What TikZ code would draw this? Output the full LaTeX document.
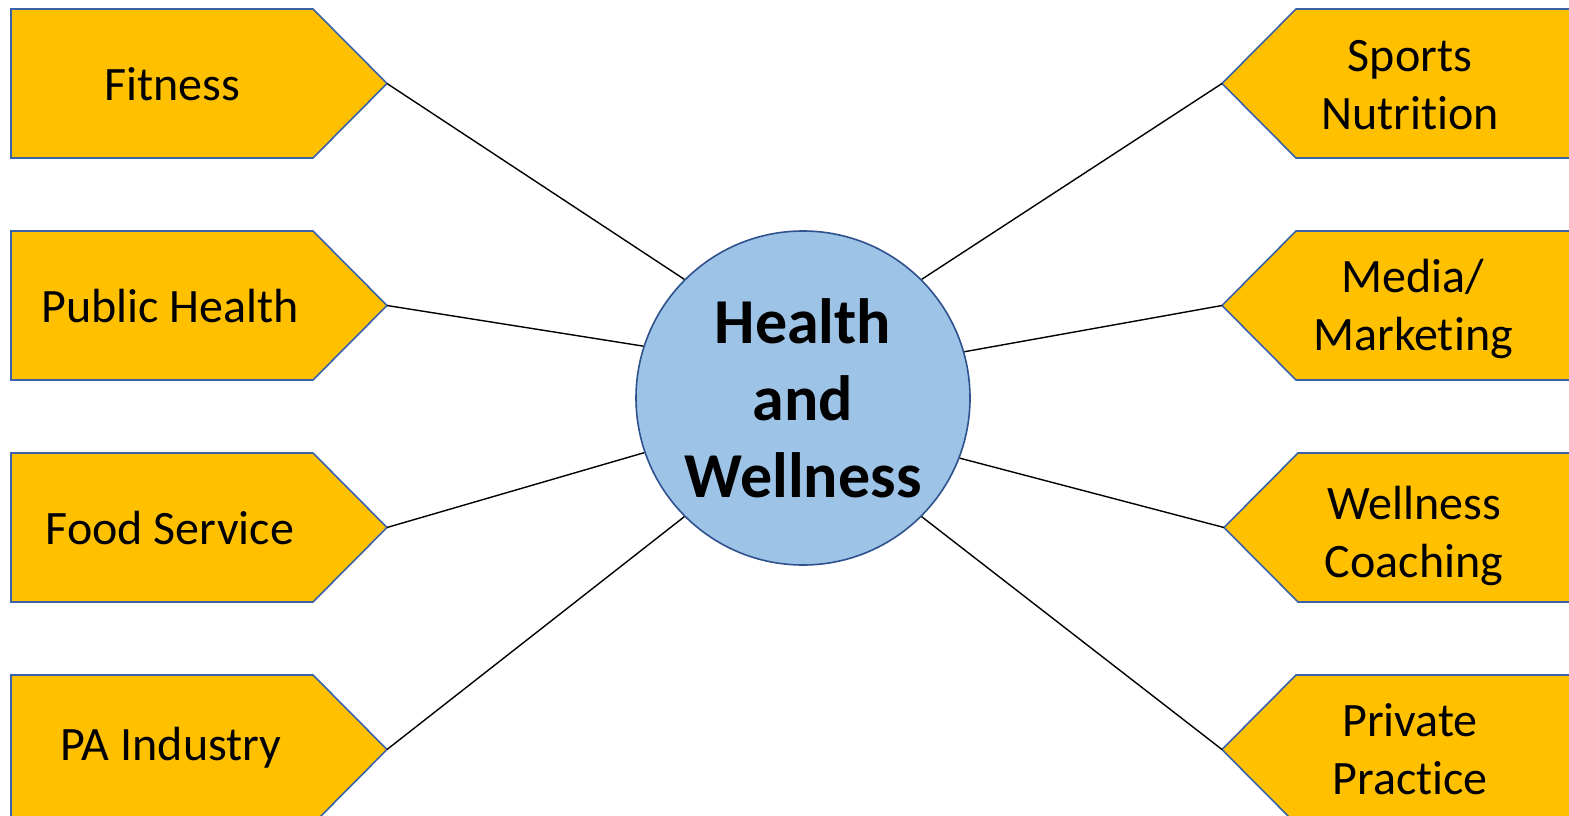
\documentclass[tikz,border=0pt]{standalone}
\usepackage{fontspec}
\setmainfont[Ligatures={NoCommon}]{Carlito}
\definecolor{boxfill}{HTML}{FFC000}
\definecolor{boxline}{HTML}{3A62A8}
\definecolor{circfill}{HTML}{9DC3E6}
\definecolor{circline}{HTML}{2F528F}
\tikzset{
  tagbox/.style={fill=boxfill,draw=boxline,line width=1.6pt,line join=miter},
  tagtext/.style={font=\fontsize{48}{58}\selectfont,align=center,inner sep=0pt,anchor=center},
  link/.style={draw=black,line width=1.4pt},
  hub/.style={circle,fill=circfill,draw=circline,line width=1.6pt,minimum size=334pt,inner sep=0pt,
    font=\fontsize{64}{77}\selectfont\bfseries,align=center}
}
\begin{document}
\begin{tikzpicture}[x=1pt,y=-1pt]
\useasboundingbox (0,0) rectangle (1569,816);
\clip (0,0) rectangle (1569,816);
\fill[white] (0,0) rectangle (1569,816);
% left boxes
\foreach \t/\n in {9/L1,231/L2,453/L3,675/L4}{
  \draw[tagbox] (11,\t) -- (313,\t) -- (387,\t+74.5) -- (313,\t+149) -- (11,\t+149) -- cycle;
  \coordinate (\n) at (387,\t+74.5);
}
% right boxes
\foreach \t/\n/\p in {9/R1/1222,231/R2/1222,453/R3/1224,675/R4/1222}{
  \draw[tagbox] (1620,\t) -- (\p+74,\t) -- (\p,\t+74.5) -- (\p+74,\t+149) -- (1620,\t+149) -- cycle;
  \coordinate (\n) at (\p,\t+74.5);
}
\node[tagtext] (tL1) at (172,84) {Fitness};
\node[tagtext] (tL2) at (170,306) {Public Health};
\node[tagtext] (tL3) at (170,528) {Food Service};
\node[tagtext] (tL4) at (171,748) {PA Industry};
\node[tagtext] (tR1) at (1410,85) {Sports\\Nutrition};
\node[tagtext] (tR2) at (1413,309) {Media/\\Marketing};
\node[tagtext] (tR3) at (1414,536) {Wellness\\Coaching};
\node[tagtext] (tR4) at (1410,749) {Private\\Practice};
% hub
\node[hub] (hw) at (803,398) {Health\\and\\Wellness};
% connectors
\draw[link] (L1) -- (hw.135);
\draw[link] (L2) -- (hw.162);
\draw[link] (L3) -- (hw.199);
\draw[link] (L4) -- (hw.225);
\draw[link] (R1) -- (hw.45);
\draw[link] (R2) -- (hw.16);
\draw[link] (R3) -- (hw.-21);
\draw[link] (R4) -- (hw.-45);
\end{tikzpicture}
\end{document}
